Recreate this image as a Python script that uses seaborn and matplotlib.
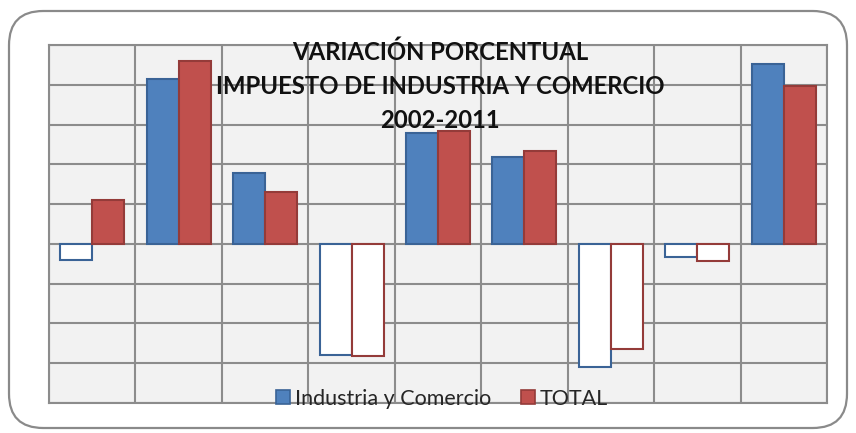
import matplotlib
matplotlib.use("Agg")
import matplotlib.pyplot as plt
from matplotlib.patches import FancyBboxPatch, Patch
import seaborn as sns
import pandas as pd

# Annual percentage variation (2003-2011)
years = ["2003", "2004", "2005", "2006", "2007", "2008", "2009", "2010", "2011"]
industria = [-4.1, 41.5, 17.9, -28.0, 27.9, 21.9, -31.0, -3.3, 45.2]
total = [11.0, 46.0, 13.1, -28.3, 28.3, 23.3, -26.3, -4.3, 39.8]
series_names = ["Industria y Comercio", "TOTAL"]
title_lines = ["VARIACIÓN PORCENTUAL", "IMPUESTO DE INDUSTRIA Y COMERCIO", "2002-2011"]

fills = {"Industria y Comercio": "#4F81BD", "TOTAL": "#C0504D"}
edges = {"Industria y Comercio": "#3A6396", "TOTAL": "#943B39"}

df = pd.DataFrame({
    "año": years * 2,
    "valor": industria + total,
    "serie": [series_names[0]] * len(years) + [series_names[1]] * len(years),
})

sns.set_theme(style="white")
plt.rcParams["font.family"] = ["Lato", "DejaVu Sans"]

fig = plt.figure(figsize=(8.56, 4.33), dpi=100)
fig.patch.set_facecolor("white")

# rounded chart-area frame
frame = FancyBboxPatch((9 / 856, 5 / 433), 838 / 856, 417 / 433,
                       boxstyle="round,pad=0,rounding_size=0.04",
                       transform=fig.transFigure, facecolor="white",
                       edgecolor="#8a8a8a", linewidth=1.6, zorder=-5,
                       mutation_aspect=856 / 433)
fig.patches.append(frame)

ax = fig.add_axes([49 / 856, 30 / 433, 778 / 856, 358 / 433])
ax.set_zorder(2)
ax.set_facecolor("#F2F2F2")

sns.barplot(data=df, x="año", y="valor", hue="serie", order=years,
            hue_order=series_names, palette=fills, width=0.74,
            ax=ax, legend=False, zorder=3)

# Excel-style "invert if negative": white fill with coloured outline
for cont, name in zip(ax.containers, series_names):
    for bar, val in zip(cont.patches, cont.datavalues):
        bar.set_edgecolor(edges[name])
        bar.set_linewidth(1.5)
        bar.set_facecolor("white" if val < 0 else fills[name])

ax.set_xlim(-0.5, len(years) - 0.5)
ax.set_ylim(-40, 50)
ax.set_yticks(range(-40, 51, 10))
ax.set_xticks([i - 0.5 for i in range(len(years) + 1)])
ax.grid(True, color="#8C8C8C", linewidth=1.5, zorder=1)
ax.set_axisbelow(True)
ax.tick_params(length=0, labelleft=False, labelbottom=False)
ax.set_xlabel("")
ax.set_ylabel("")
for sp in ax.spines.values():
    sp.set_color("#8C8C8C")
    sp.set_linewidth(1.5)

# title over the plot area
for txt, ypx in zip(title_lines, [50, 85, 118]):
    ax.text(0.503, (388 - ypx + 13) / 358, txt, transform=ax.transAxes,
            ha="center", va="center", fontsize=17.2, fontweight="bold",
            color="#111111", zorder=5)

handles = [Patch(facecolor=fills[n], edgecolor=edges[n], linewidth=1.2)
           for n in series_names]
ax.legend(handles, series_names, loc="center", bbox_to_anchor=(0.505, 0.012),
          ncol=2, frameon=False, fontsize=15.5, handlelength=0.65,
          handleheight=0.65, handletextpad=0.2, columnspacing=1.4,
          borderaxespad=0)

fig.savefig("out.png", dpi=100)
